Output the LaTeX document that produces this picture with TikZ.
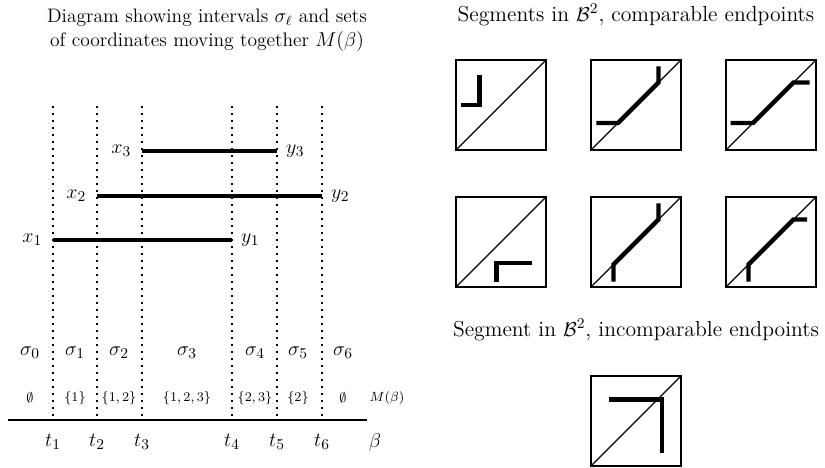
\documentclass[tikz,border=0pt]{standalone}
\usepackage{amsmath,amssymb}
\usepackage{tikz}
\usetikzlibrary{positioning}
\tikzset{
  every node/.style={font=\fontsize{13}{15.6}\selectfont},
  sep/.style   ={line width=1.2pt,dash pattern=on 1.2pt off 3pt},
  seg/.style   ={line width=2.2pt},
  axisline/.style={line width=1.6pt},
  setlab/.style={font=\fontsize{8}{9.6}\selectfont},
  frame/.style ={line width=1.1pt},
  diag/.style  ={line width=0.7pt},
  trail/.style ={line width=2.6pt},
}

\begin{document}
\begin{tikzpicture}[x=0.6pt,y=-0.6pt]
  \useasboundingbox (0,0) rectangle (825,467);
  % left panel
  \node[align=center,font=\fontsize{11.7}{14.4}\selectfont] (title) at (207,30)
    {Diagram showing intervals $\sigma_\ell$ and sets\\of coordinates moving together $M(\beta)$};
  \coordinate (ax0) at (8,420);
  \coordinate (ax1) at (367,420);
  \draw[axisline] (ax0) -- (ax1);
  \node (beta) at (375,442) {$\beta$};
  \foreach \i/\x in {1/53,2/97,3/142,4/232,5/277,6/322}{
     \coordinate (top\i) at (\x,106);
     \coordinate (bot\i) at (\x,420);
     \draw[sep] (top\i) -- (bot\i);
     \node (t\i) at (\x,442) {$t_\i$};
  }
  \foreach \i/\x/\m in {0/30/{\emptyset},1/75/{\{1\}},2/119/{\{1,2\}},3/187/{\{1,2,3\}},
                        4/255/{\{2,3\}},5/298/{\{2\}},6/343/{\emptyset}}{
     \node (s\i) at (\x,353) {$\sigma_\i$};
     \node[setlab] (m\i) at (\x,398) {$\m$};
  }
  \node[setlab] (mb) at (387,398) {$M(\beta)$};
  \foreach \i/\a/\b/\y in {1/53/232/240,2/97/322/196,3/142/277/151}{
     \coordinate (a\i) at (\a,\y);
     \coordinate (b\i) at (\b,\y);
     \draw[seg] (a\i) -- (b\i);
     \node[left=3pt of a\i] (x\i) {$x_\i$};
     \node[right=2pt of b\i] (y\i) {$y_\i$};
  }
  % right panel
  \node (cmp) at (636,15) {Segments in $\mathcal{B}^2$, comparable endpoints};
  \node (inc) at (636,330) {Segment in $\mathcal{B}^2$, incomparable endpoints};
  \foreach \bx/\by/\pts in {
      456/150/{(0.06,0.5)--(0.26,0.5)--(0.26,0.83)},
      591/150/{(0.06,0.3)--(0.3,0.3)--(0.75,0.75)--(0.75,0.93)},
      726/150/{(0.05,0.3)--(0.3,0.3)--(0.75,0.75)--(0.93,0.75)},
      456/287/{(0.45,0.06)--(0.45,0.27)--(0.84,0.27)},
      591/287/{(0.25,0.06)--(0.25,0.25)--(0.75,0.75)--(0.75,0.93)},
      726/287/{(0.25,0.06)--(0.25,0.25)--(0.75,0.75)--(0.9,0.75)},
      591/466/{(0.2,0.74)--(0.79,0.74)--(0.79,0.15)}}{
    \begin{scope}[shift={(\bx,\by)},x=54pt,y=54pt]
      \draw[frame] (0,0) rectangle (1,1);
      \draw[diag] (0,0) -- (1,1);
      \draw[trail] \pts;
    \end{scope}
  }
\end{tikzpicture}
\end{document}
